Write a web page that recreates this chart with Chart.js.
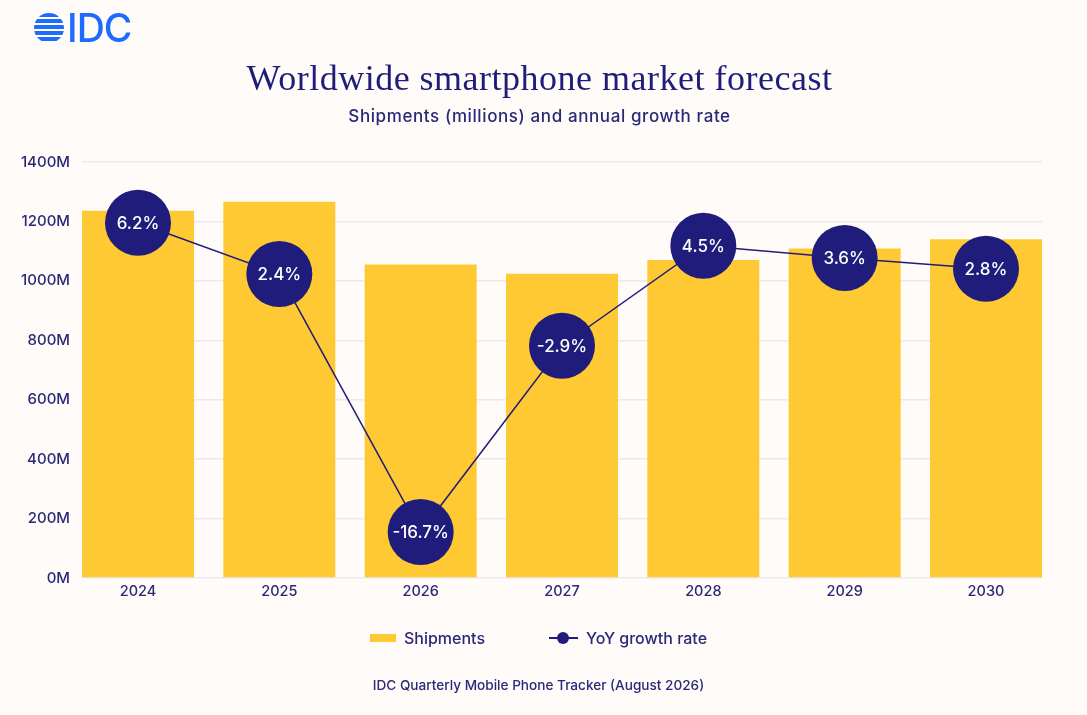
<!DOCTYPE html>
<html>
<head>
<meta charset="utf-8">
<script src="https://cdn.jsdelivr.net/npm/chart.js@4.4.1/dist/chart.umd.min.js"></script>
<style>
html, body { margin: 0; padding: 0; background: #fffbf8; overflow: hidden; }
#page { position: relative; width: 1087px; height: 715px; font-family: Inter, sans-serif; color: #2a2878; }
#chartBox { position: absolute; left: 0; top: 0; width: 1087px; height: 715px; }
.globe { position: absolute; left: 34px; top: 13px; width: 30px; height: 30px; border-radius: 50%;
  background: repeating-linear-gradient(to bottom, #1f6bff 0px, #1f6bff 4px, transparent 4px, transparent 6px); }
.idc { position: absolute; left: 67px; top: 9px; font-size: 39px; line-height: 38px; font-weight: 500; color: #1f6bff; letter-spacing: -1px; }
.title { position: absolute; left: 0; width: 1079px; top: 58px; text-align: center;
  font-family: "Liberation Serif", serif; font-size: 36px; line-height: 40px; letter-spacing: 0.5px; color: #1f1d7a; }
.subtitle { position: absolute; left: 0; width: 1079px; top: 106px; text-align: center; font-size: 17px; line-height: 20px; letter-spacing: 0.6px; font-weight: 500; }
#legend { position: absolute; left: 0; width: 1077px; top: 628px; display: flex; justify-content: center; gap: 64px; font-size: 16px; line-height: 20px; font-weight: 500; }
#legend .item { display: flex; align-items: center; }
#legend .box { width: 26px; height: 8px; margin-right: 8px; }
#legend .lineMark { position: relative; width: 29px; height: 2px; margin-right: 8px; }
#legend .lineMark span { position: absolute; left: 8px; top: -5px; width: 12px; height: 12px; border-radius: 50%; }
.footer { position: absolute; left: 0; width: 1077px; top: 677px; text-align: center; font-size: 13.6px; line-height: 16px; font-weight: 500; }
</style>
</head>
<body>
<div id="page">
  <div id="chartBox"><canvas id="chart"></canvas></div>
  <div class="globe"></div>
  <div class="idc">IDC</div>
  <div class="title">Worldwide smartphone market forecast</div>
  <div class="subtitle">Shipments (millions) and annual growth rate</div>
  <div id="legend"></div>
  <div class="footer">IDC Quarterly Mobile Phone Tracker (August 2026)</div>
</div>
<script>
// data
const years = [2024, 2025, 2026, 2027, 2028, 2029, 2030];
const shipments = [1236, 1266, 1055, 1024, 1070, 1109, 1140];
const growth = [6.2, 2.4, -16.7, -2.9, 4.5, 3.6, 2.8];
const shipmentTicks = [0, 200, 400, 600, 800, 1000, 1200, 1400];

const navy = '#1f1c7b';
const textColor = '#2a2878';
const barColor = '#ffc933';
const barPct = 0.7925;

// white growth labels inside the bubbles
const bubbleLabels = {
    id: 'bubbleLabels',
    afterDatasetsDraw(chart) {
        const meta = chart.getDatasetMeta(1);
        const ctx = chart.ctx;
        ctx.save();
        ctx.font = '500 17px Inter';
        ctx.fillStyle = '#ffffff';
        ctx.textAlign = 'center';
        ctx.textBaseline = 'middle';
        meta.data.forEach((pt, i) => {
            ctx.fillText(growth[i].toFixed(1) + '%', pt.x, pt.y + 1);
        });
        ctx.restore();
    }
};

const chart = new Chart(document.getElementById('chart'), {
    type: 'bar',
    data: {
        datasets: [
            {
                type: 'bar',
                label: 'Shipments',
                data: shipments.map((v, i) => ({ x: years[i], y: v })),
                backgroundColor: barColor,
                borderWidth: 0,
                categoryPercentage: 1,
                barPercentage: barPct,
                yAxisID: 'y',
                order: 2
            },
            {
                type: 'line',
                label: 'YoY growth rate',
                data: growth.map((v, i) => ({ x: years[i], y: v })),
                borderColor: navy,
                borderWidth: 1.5,
                pointRadius: 33,
                pointHoverRadius: 33,
                pointBackgroundColor: navy,
                pointBorderWidth: 0,
                yAxisID: 'y1',
                clip: false,
                order: 1
            }
        ]
    },
    options: {
        responsive: true,
        maintainAspectRatio: false,
        animation: false,
        layout: { padding: { top: 162, bottom: 115, left: 20, right: 45 } },
        plugins: {
            legend: { display: false },
            tooltip: { enabled: false }
        },
        scales: {
            x: {
                type: 'linear',
                offset: false,
                min: years[0] - barPct / 2,
                max: years[years.length - 1] + barPct / 2,
                grid: { display: false, drawTicks: false },
                border: { display: false },
                ticks: {
                    stepSize: 1,
                    includeBounds: false,
                    autoSkip: false,
                    maxRotation: 0,
                    padding: 5,
                    color: textColor,
                    font: { family: 'Inter', size: 14.5, weight: '500' },
                    callback: v => String(v)
                },
                afterFit: scale => { scale.height = 22; }
            },
            y: {
                min: shipmentTicks[0],
                max: shipmentTicks[shipmentTicks.length - 1],
                grid: { color: '#ebe8f0', lineWidth: 1.5, drawTicks: false },
                border: { display: false },
                ticks: {
                    stepSize: 200,
                    padding: 12,
                    color: textColor,
                    font: { family: 'Inter', size: 15, weight: '500' },
                    callback: v => v + 'M'
                },
                afterFit: scale => { scale.width = 62; }
            },
            y1: {
                display: false,
                min: -20.1,
                max: 10.7
            }
        }
    },
    plugins: [bubbleLabels]
});

// html legend built from the datasets
const legendEl = document.getElementById('legend');
chart.data.datasets.forEach(ds => {
    const item = document.createElement('div');
    item.className = 'item';
    if (ds.type === 'bar') {
        item.innerHTML = '<div class="box" style="background:' + ds.backgroundColor + '"></div>' + ds.label;
    } else {
        item.innerHTML = '<div class="lineMark" style="background:' + ds.borderColor + '"><span style="background:' + ds.pointBackgroundColor + '"></span></div>' + ds.label;
    }
    legendEl.appendChild(item);
});
</script>
</body>
</html>
